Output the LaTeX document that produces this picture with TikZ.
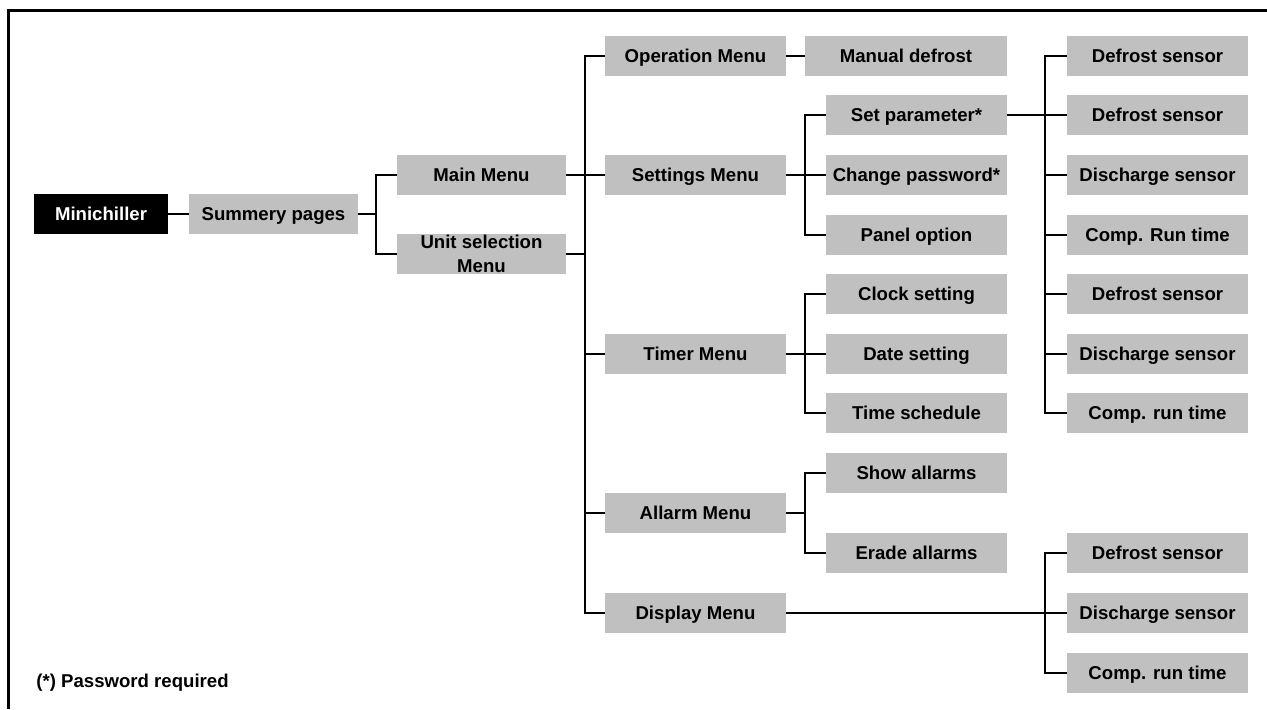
\documentclass[tikz,border=0pt]{standalone}
\usepackage{fontspec}
\setmainfont{Liberation Sans}
\usetikzlibrary{calc}
\definecolor{panel}{HTML}{C0C0C0}

\begin{document}
\begin{tikzpicture}[x=0.5pt,y=-0.5pt,
  font=\fontsize{9.3}{12}\selectfont\bfseries,
  item/.style={fill=panel,minimum height=20pt,inner sep=0pt,align=center,
    text height=6.7pt,text depth=0pt},
  wide/.style={item,minimum width=90.5pt},
  link/.style={line width=1.35pt}]
  \useasboundingbox (0,0) rectangle (1267,709);
  % frame
  \draw[line width=1.5pt] (8.5,709) -- (8.5,10.5) -- (1267,10.5);
  % bus lines
  \coordinate (bus1) at (376,0);
  \coordinate (bus2) at (585,0);
  \coordinate (bus3) at (805,0);
  \coordinate (bus4) at (1045,0);
  % left part
  \node[item,fill=black,text=white,minimum width=67pt] (root) at (101,214) {Minichiller};
  \node[item,minimum width=84.5pt] (summ) at (273.5,214) {Summery pages};
  \node[item,minimum width=84.5pt] (main) at (481.5,175) {Main Menu};
  \node[item,minimum width=84.5pt,text height=18.7pt] (unit) at (481.5,254) {Unit selection\\Menu};
  % menus
  \node[wide] (oper) at (695.5,56) {Operation Menu};
  \node[wide] (sett) at (695.5,175) {Settings Menu};
  \node[wide] (timer) at (695.5,354) {Timer Menu};
  \node[wide] (allarm) at (695.5,513) {Allarm Menu};
  \node[wide] (disp) at (695.5,613) {Display Menu};
  \node[item,minimum width=101pt] (manual) at (906,56) {Manual defrost};
  % sub menus
  \node[wide] (setp) at (916.5,115) {Set parameter*};
  \node[wide] (chpw) at (916.5,175) {Change password*};
  \node[wide] (panelopt) at (916.5,235) {Panel option};
  \node[wide] (clock) at (916.5,294) {Clock setting};
  \node[wide] (date) at (916.5,354) {Date setting};
  \node[wide] (sched) at (916.5,413) {Time schedule};
  \node[wide] (show) at (916.5,473) {Show allarms};
  \node[wide] (erade) at (916.5,553) {Erade allarms};
  % parameters
  \node[wide] (r1) at (1157.5,56) {Defrost sensor};
  \node[wide] (r2) at (1157.5,115) {Defrost sensor};
  \node[wide] (r3) at (1157.5,175) {Discharge sensor};
  \node[wide] (r4) at (1157.5,235) {Comp. Run time};
  \node[wide] (r5) at (1157.5,294) {Defrost sensor};
  \node[wide] (r6) at (1157.5,354) {Discharge sensor};
  \node[wide] (r7) at (1157.5,413) {Comp. run time};
  \node[wide] (d1) at (1157.5,553) {Defrost sensor};
  \node[wide] (d2) at (1157.5,613) {Discharge sensor};
  \node[wide] (d3) at (1157.5,673) {Comp. run time};
  \node[anchor=west,inner sep=0pt] (note) at (36,683) {(*) Password required};
  % connectors
  \draw[link] (root) -- (summ);
  \draw[link] (summ.east) -- (summ.east -| bus1);
  \draw[link] (main.west) -| (bus1 |- unit.west) -- (unit.west);
  \draw[link] (oper.west) -| (bus2 |- disp.west) -- (disp.west);
  \foreach \n in {main,unit}
    \draw[link] (\n.east) -- (\n.east -| bus2);
  \foreach \n in {sett,timer,allarm}
    \draw[link] (\n.west) -- (\n.west -| bus2);
  \draw[link] (oper) -- (manual);
  \draw[link] (setp.west) -| (bus3 |- panelopt.west) -- (panelopt.west);
  \draw[link] (sett) -- (chpw);
  \draw[link] (clock.west) -| (bus3 |- sched.west) -- (sched.west);
  \draw[link] (timer) -- (date);
  \draw[link] (show.west) -| (bus3 |- erade.west) -- (erade.west);
  \draw[link] (allarm.east) -- (allarm.east -| bus3);
  \draw[link] (r1.west) -| (bus4 |- r7.west) -- (r7.west);
  \foreach \n in {r2,r3,r4,r5,r6}
    \draw[link] (\n.west) -- (\n.west -| bus4);
  \draw[link] (setp.east) -- (setp.east -| bus4);
  \draw[link] (d1.west) -| (bus4 |- d3.west) -- (d3.west);
  \draw[link] (disp) -- (d2);
\end{tikzpicture}
\end{document}
